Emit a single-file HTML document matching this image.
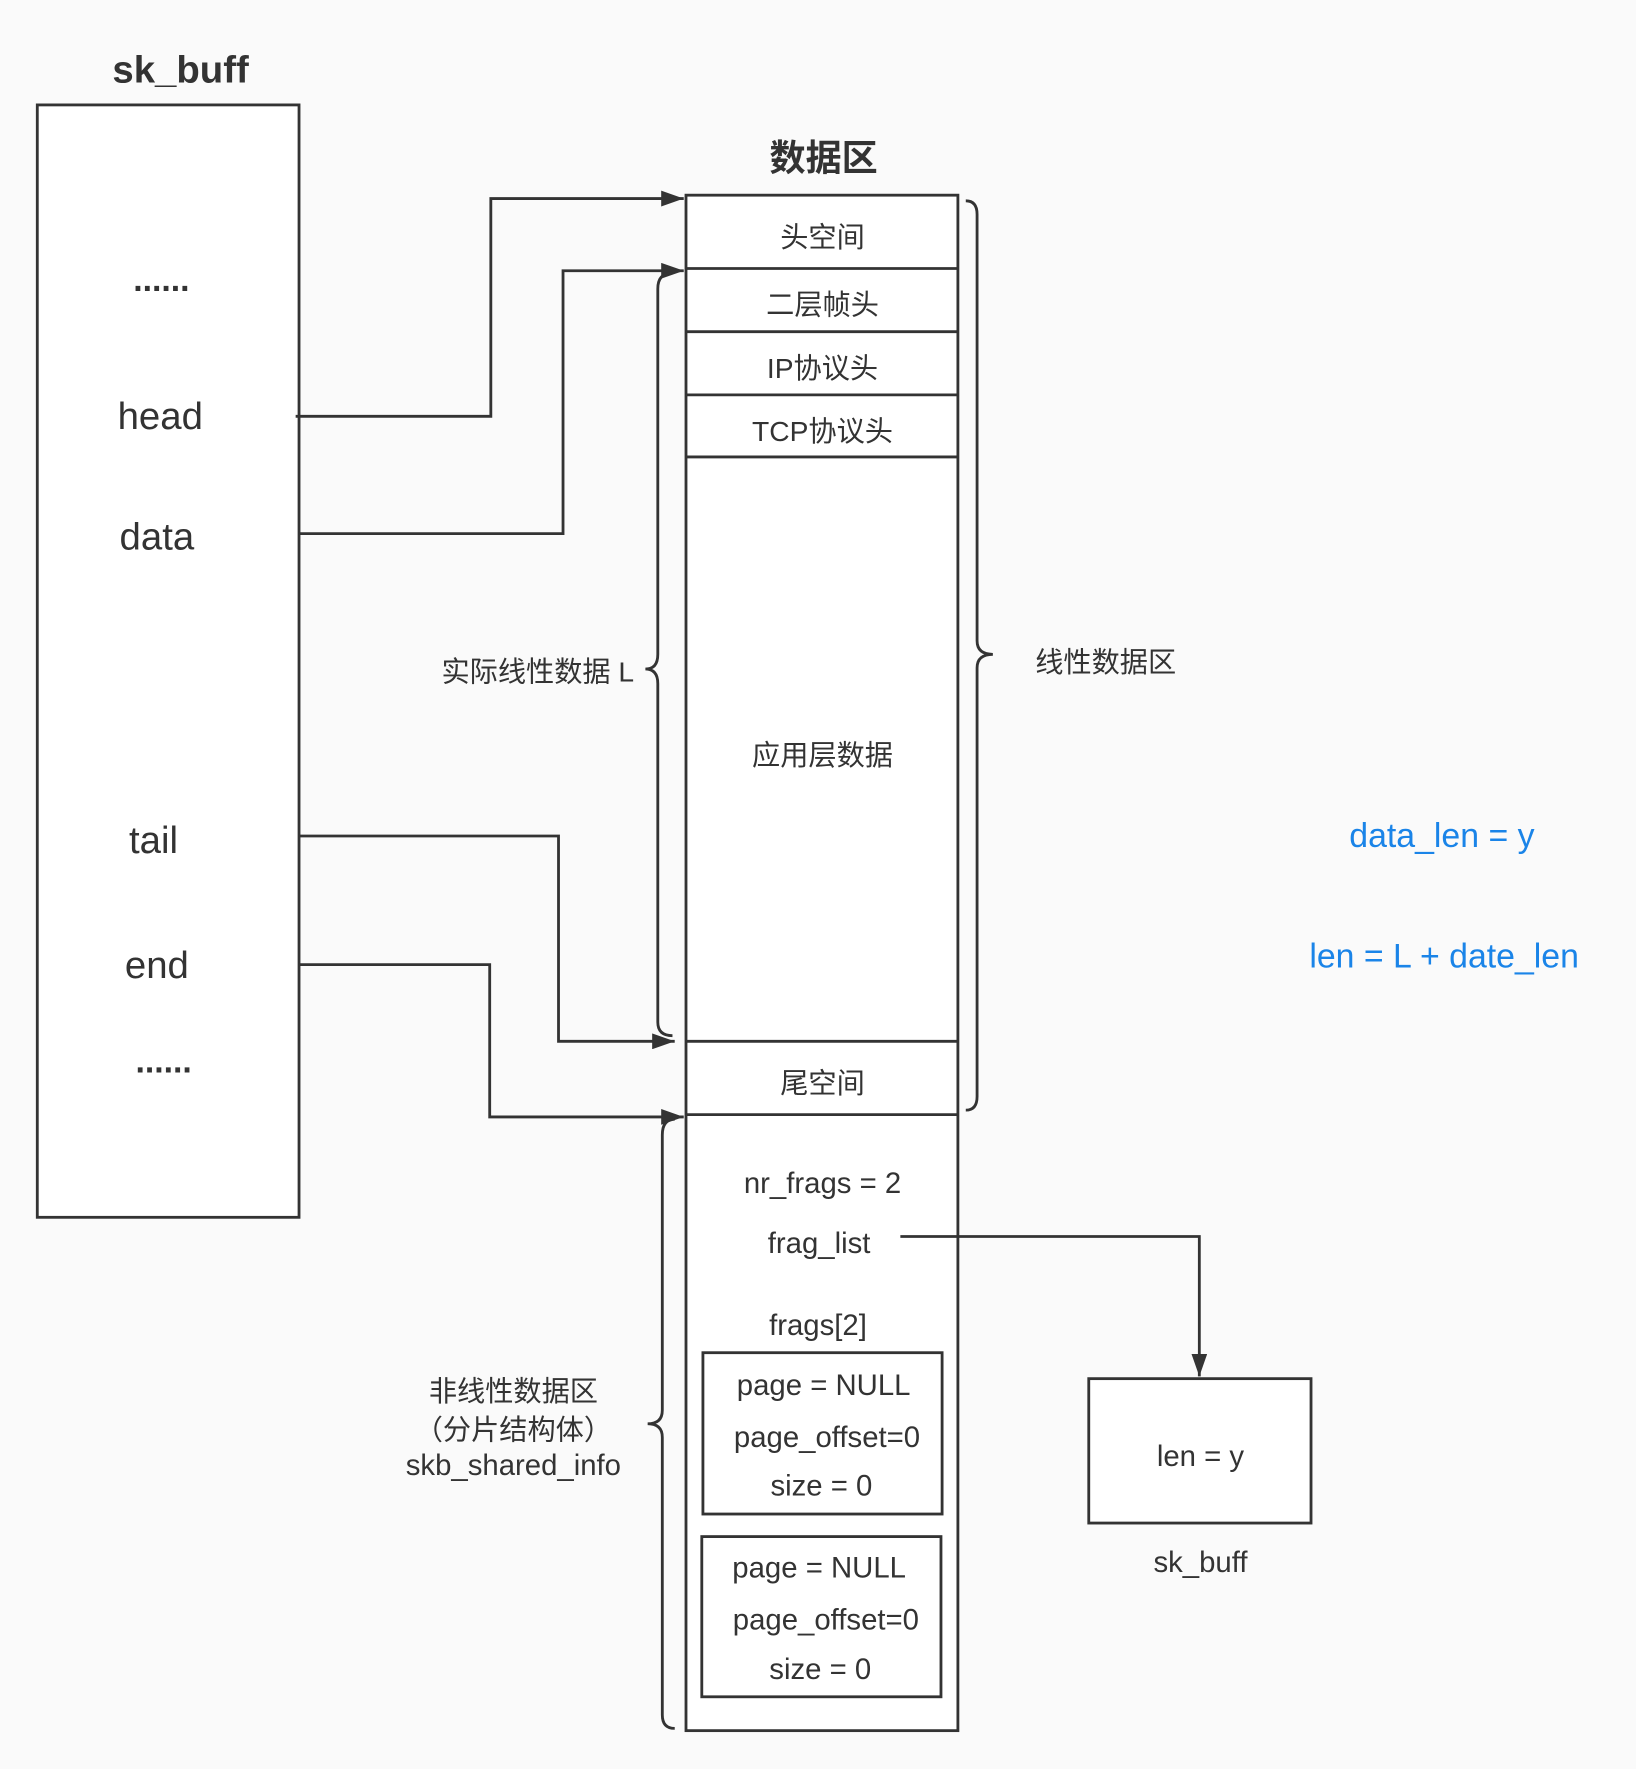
<!DOCTYPE html>
<html><head><meta charset="utf-8"><style>
html,body{margin:0;padding:0;background:#fafafa;}
svg{display:block;}
text{font-family:"Liberation Sans","Noto Sans CJK SC",sans-serif;fill:#333;text-anchor:middle;dominant-baseline:central;}
</style></head><body>
<svg width="1636" height="1769" viewBox="0 0 1450 1568" xmlns="http://www.w3.org/2000/svg">
<defs><marker id="a" markerWidth="10" markerHeight="10" refX="9" refY="5" orient="auto" markerUnits="userSpaceOnUse" viewBox="0 0 10 10"><path d="M0,0 L10,5 L0,10 z" fill="#333"/></marker>
<marker id="b" markerWidth="20" markerHeight="14" refX="20" refY="7" orient="auto" markerUnits="userSpaceOnUse"><path d="M0,0 L20,7 L0,14 z" fill="#333"/></marker></defs>
<rect x="0" y="0" width="1450" height="1568" fill="#fafafa"/>
<text x="160" y="62" font-size="34" font-weight="bold">sk_buff</text>
<rect x="33" y="93" width="232" height="986" fill="#fff" stroke="#333" stroke-width="2.5"/>
<text x="143" y="248" font-size="30" font-weight="bold">......</text>
<text x="142" y="369" font-size="34">head</text>
<text x="139" y="476" font-size="34">data</text>
<text x="136" y="745" font-size="34">tail</text>
<text x="139" y="856" font-size="34">end</text>
<text x="145" y="941" font-size="30" font-weight="bold">......</text>

<text x="730" y="140" font-size="32" font-weight="bold">数据区</text>
<rect x="608" y="173" width="241" height="1361" fill="#fff" stroke="#333" stroke-width="2.5"/>
<g stroke="#333" stroke-width="2.5">
<line x1="608" y1="238" x2="849" y2="238"/><line x1="608" y1="294" x2="849" y2="294"/>
<line x1="608" y1="350" x2="849" y2="350"/><line x1="608" y1="405" x2="849" y2="405"/>
<line x1="608" y1="923" x2="849" y2="923"/><line x1="608" y1="988" x2="849" y2="988"/>
</g>
<text x="729" y="210" font-size="25">头空间</text>
<text x="729" y="270" font-size="25">二层帧头</text>
<text x="729" y="326" font-size="25">IP协议头</text>
<text x="729" y="382" font-size="25">TCP协议头</text>
<text x="729" y="669" font-size="25">应用层数据</text>
<text x="729" y="960" font-size="25">尾空间</text>

<g fill="none" stroke="#333" stroke-width="2.5">
<polyline points="262,369 435,369 435,176 606,176" marker-end="url(#b)"/>
<polyline points="265,473 499,473 499,240 606,240" marker-end="url(#b)"/>
<polyline points="265,741 495,741 495,923 598,923" marker-end="url(#b)"/>
<polyline points="265,855 434,855 434,990 606,990" marker-end="url(#b)"/>
<polyline points="798,1096 1063,1096 1063,1220" marker-end="url(#b)"/>
<path d="M856,178 Q866,178 866,190 L866,568 Q866,580 880,580 Q866,580 866,592 L866,972 Q866,984 856,984"/>
<path d="M596,242 Q583,242 583,256 L583,580 Q583,593 572,593 Q583,593 583,606 L583,906 Q583,918 596,918"/>
<path d="M598,992 Q587,992 587,1006 L587,1250 Q587,1262 574,1262 Q587,1262 587,1274 L587,1520 Q587,1532 598,1532"/>
</g>
<text x="980" y="587" font-size="25">线性数据区</text>
<text x="562" y="595" font-size="25" style="text-anchor:end">实际线性数据 L</text>
<text x="455" y="1233" font-size="25">非线性数据区</text>
<text x="455" y="1267" font-size="25">（分片结构体）</text>
<text x="455" y="1299" font-size="26">skb_shared_info</text>

<text x="729" y="1049" font-size="26">nr_frags = 2</text>
<text x="726" y="1102" font-size="26">frag_list</text>
<text x="725" y="1175" font-size="26">frags[2]</text>
<rect x="623" y="1199" width="212" height="143" fill="#fff" stroke="#333" stroke-width="2.5"/>
<rect x="622" y="1362" width="212" height="142" fill="#fff" stroke="#333" stroke-width="2.5"/>
<text x="730" y="1228" font-size="26">page = NULL</text>
<text x="733" y="1274" font-size="26">page_offset=0</text>
<text x="728" y="1317" font-size="26">size = 0</text>
<text x="726" y="1390" font-size="26">page = NULL</text>
<text x="732" y="1436" font-size="26">page_offset=0</text>
<text x="727" y="1480" font-size="26">size = 0</text>

<rect x="965" y="1222" width="197" height="128" fill="#fff" stroke="#333" stroke-width="2.5"/>
<text x="1064" y="1291" font-size="26">len = y</text>
<text x="1064" y="1385" font-size="26">sk_buff</text>

<text x="1278" y="741" font-size="30" style="fill:#1a84e8">data_len = y</text>
<text x="1280" y="848" font-size="30" style="fill:#1a84e8">len = L + date_len</text>
</svg>
</body></html>
